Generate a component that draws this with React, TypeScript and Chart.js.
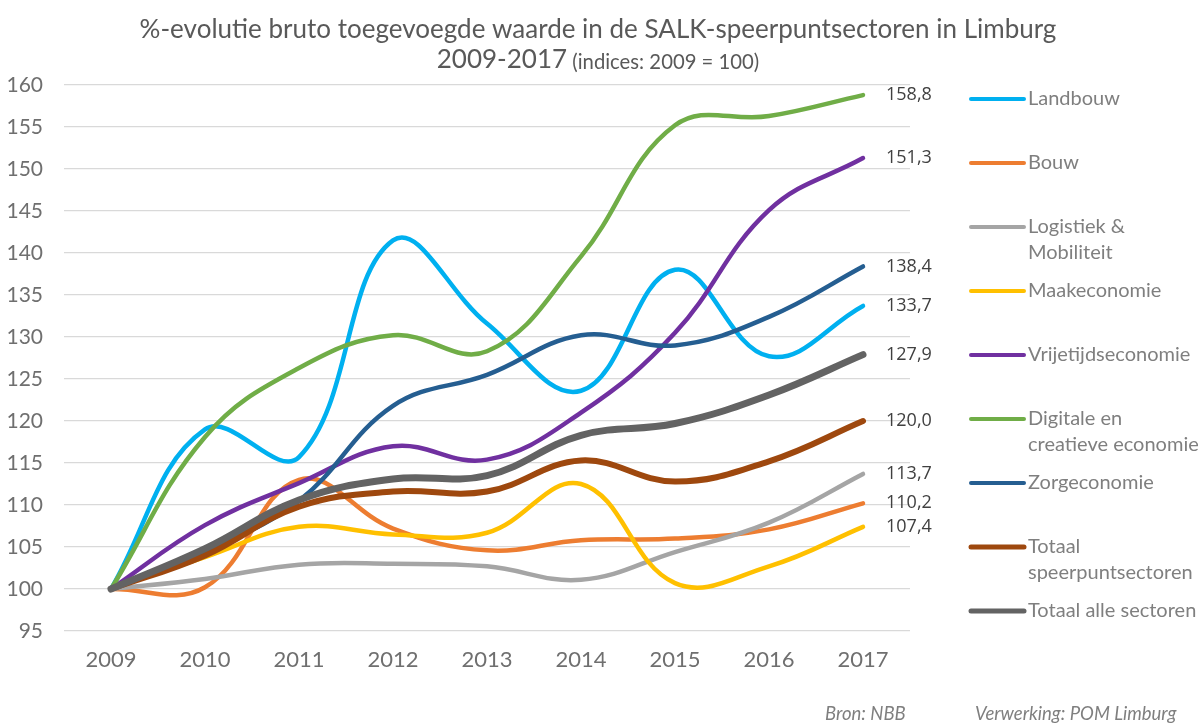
import React, { useEffect, useRef } from "react";
import { Chart, registerables } from "chart.js";

Chart.register(...registerables);

const years = ["2009", "2010", "2011", "2012", "2013", "2014", "2015", "2016", "2017"];

const landbouw = [100, 119.0, 115.7, 141.5, 131.6, 123.6, 138.0, 127.7, 133.7];
const bouw = [100, 100.2, 113.0, 107.2, 104.6, 105.8, 106.0, 107.1, 110.2];
const logistiek = [100, 101.2, 102.9, 103.0, 102.7, 101.1, 104.4, 107.9, 113.7];
const maakeconomie = [100, 103.8, 107.4, 106.5, 106.7, 112.5, 100.7, 102.7, 107.4];
const vrijetijd = [100, 107.6, 112.6, 117.0, 115.4, 121.0, 130.5, 145.1, 151.3];
const digitale = [100, 118.1, 126.3, 130.2, 128.3, 139.6, 155.2, 156.3, 158.8];
const zorg = [100, 104.5, 110.5, 121.8, 125.5, 130.2, 129.0, 132.4, 138.4];
const totaalSpeerpunt = [100, 104.0, 109.8, 111.6, 111.6, 115.3, 112.8, 115.2, 120.0];
const totaalAlle = [100, 104.8, 110.6, 113.1, 113.5, 118.3, 119.7, 123.1, 127.9];

const seriesNames = [
  ["Landbouw"],
  ["Bouw"],
  ["Logistiek &", "Mobiliteit"],
  ["Maakeconomie"],
  ["Vrijetijdseconomie"],
  ["Digitale en", "creatieve economie"],
  ["Zorgeconomie"],
  ["Totaal", "speerpuntsectoren"],
  ["Totaal alle sectoren"],
];
const seriesData = [landbouw, bouw, logistiek, maakeconomie, vrijetijd, digitale, zorg, totaalSpeerpunt, totaalAlle];
const seriesColors = ["#00B0F0", "#ED7D31", "#A5A5A5", "#FFC000", "#7030A0", "#70AD47", "#255E91", "#9E480E", "#636363"];
const seriesWidths = [4.5, 4.5, 4.5, 4.5, 4.5, 4.5, 4.5, 6, 7];

const titleLine1 = "%-evolutie bruto toegevoegde waarde in de SALK-speerpuntsectoren in Limburg";
const titleLine2a = "2009-2017";
const titleLine2b = " (indices: 2009 = 100)";
const footerLeft = "Bron: NBB";
const footerRight = "Verwerking: POM Limburg";

const SANS = "Lato, 'Open Sans', sans-serif";

const overlayPlugin = {
  id: "overlay",
  afterDraw(chart: any) {
    const ctx = chart.ctx as CanvasRenderingContext2D;
    const yScale = chart.scales.y;
    ctx.save();

    // Title line 1
    ctx.fillStyle = "#595959";
    ctx.textBaseline = "middle";
    ctx.textAlign = "left";
    ctx.font = `24px ${SANS}`;
    let w = ctx.measureText(titleLine1).width;
    const size1 = (24 * 917) / w;
    ctx.font = `${size1}px ${SANS}`;
    w = ctx.measureText(titleLine1).width;
    ctx.fillText(titleLine1, 598 - w / 2, 30);

    // Title line 2
    const big = size1;
    const small = size1 * 0.78;
    ctx.font = `${big}px ${SANS}`;
    const wa = ctx.measureText(titleLine2a).width;
    ctx.font = `${small}px ${SANS}`;
    const wb = ctx.measureText(titleLine2b).width;
    const start = 598 - (wa + wb) / 2;
    ctx.font = `${big}px ${SANS}`;
    ctx.fillText(titleLine2a, start, 60);
    ctx.font = `${small}px ${SANS}`;
    ctx.fillText(titleLine2b, start + wa, 62);

    // End value labels
    ctx.fillStyle = "#404040";
    ctx.font = `18px 'Open Sans', sans-serif`;
    const lastIdx = years.length - 1;
    seriesData.forEach((arr) => {
      const v = arr[lastIdx];
      const y = yScale.getPixelForValue(v);
      ctx.fillText(v.toFixed(1).replace(".", ","), 886, y);
    });

    // Legend
    ctx.font = `20px ${SANS}`;
    seriesNames.forEach((lines, i) => {
      const cy = 99 + i * 64;
      ctx.strokeStyle = seriesColors[i];
      ctx.lineWidth = i >= 7 ? 5 : 4;
      ctx.lineCap = "round";
      ctx.beginPath();
      ctx.moveTo(971, cy);
      ctx.lineTo(1024, cy);
      ctx.stroke();
      ctx.fillStyle = "#7f7f7f";
      lines.forEach((t, j) => ctx.fillText(t, 1028, cy + j * 26));
    });

    // Footer
    ctx.fillStyle = "#7f7f7f";
    ctx.font = `italic 18.5px ${SANS}`;
    ctx.fillText(footerLeft, 825, 714);
    ctx.fillText(footerRight, 975, 714);

    ctx.restore();
  },
};

export default function App() {
  const ref = useRef<HTMLCanvasElement | null>(null);

  useEffect(() => {
    if (!ref.current) return;
    const n = seriesData.length;
    const chart = new Chart(ref.current, {
      type: "line",
      data: {
        labels: years,
        datasets: seriesData.map((d, i) => ({
          label: seriesNames[i].join(" "),
          data: d,
          borderColor: seriesColors[i],
          backgroundColor: seriesColors[i],
          borderWidth: seriesWidths[i],
          tension: 0.4,
          pointRadius: 0,
          borderCapStyle: "round" as const,
          borderJoinStyle: "round" as const,
          fill: false,
          order: n - i,
        })),
      },
      options: {
        responsive: false,
        animation: false,
        devicePixelRatio: 1,
        layout: { padding: { top: 85, right: 290, bottom: 0, left: 0 } },
        plugins: {
          legend: { display: false },
          title: { display: false },
          tooltip: { enabled: false },
        },
        scales: {
          x: {
            offset: true,
            grid: { display: false, drawTicks: false },
            border: { display: false },
            ticks: {
              color: "#6f6f6f",
              font: { family: SANS, size: 22 },
              padding: 16,
              maxRotation: 0,
            },
            afterFit(scale: any) {
              scale.height = 95;
            },
          },
          y: {
            min: 95,
            max: 160,
            grid: { color: "#d9d9d9", lineWidth: 1.2, drawTicks: false },
            border: { display: false },
            ticks: {
              stepSize: 5,
              color: "#6f6f6f",
              font: { family: SANS, size: 21 },
              padding: 21,
            },
            afterFit(scale: any) {
              scale.width = 64;
            },
          },
        },
      },
      plugins: [overlayPlugin],
    });
    return () => chart.destroy();
  }, []);

  return (
    <div style={{ position: "absolute", left: 0, top: 0, width: 1200, height: 726, background: "#fff" }}>
      <canvas ref={ref} width={1200} height={726} style={{ display: "block" }} />
    </div>
  );
}
